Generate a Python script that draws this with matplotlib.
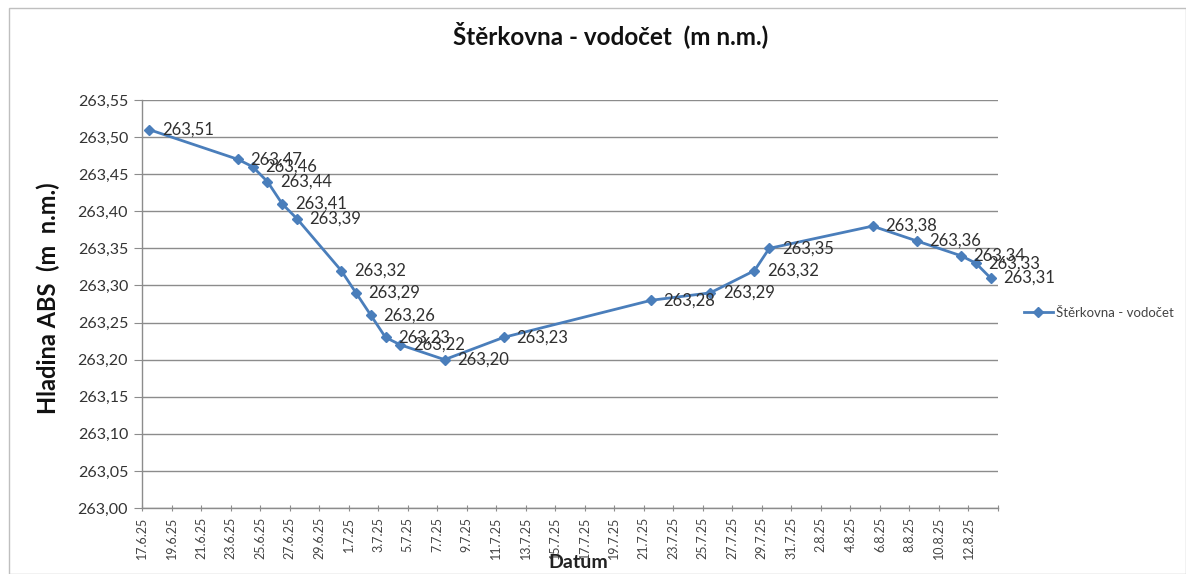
import matplotlib
matplotlib.use("Agg")
import matplotlib.pyplot as plt
import matplotlib.dates as mdates
import pandas as pd

# ---- data ----
dates = ["2025-06-17", "2025-06-23", "2025-06-24", "2025-06-25", "2025-06-26",
         "2025-06-27", "2025-06-30", "2025-07-01", "2025-07-02", "2025-07-03",
         "2025-07-04", "2025-07-07", "2025-07-11", "2025-07-21", "2025-07-25",
         "2025-07-28", "2025-07-29", "2025-08-05", "2025-08-08", "2025-08-11",
         "2025-08-12", "2025-08-13"]
values = [263.51, 263.47, 263.46, 263.44, 263.41,
          263.39, 263.32, 263.29, 263.26, 263.23,
          263.22, 263.20, 263.23, 263.28, 263.29,
          263.32, 263.35, 263.38, 263.36, 263.34,
          263.33, 263.31]
series_name = "Štěrkovna - vodočet"
title = "Štěrkovna - vodočet  (m n.m.)"
y_label = "Hladina ABS  (m  n.m.)"
x_label = "Datum"
y_ticks = [263.00, 263.05, 263.10, 263.15, 263.20, 263.25, 263.30,
           263.35, 263.40, 263.45, 263.50, 263.55]
x_start, x_end = "2025-06-17", "2025-08-14"

plt.rcParams['font.family'] = ['Lato', 'DejaVu Sans']

fig = plt.figure(figsize=(11.86, 5.74), dpi=100)
fig.patch.set_facecolor("white")
ax = fig.add_axes([142/1186, 1-508/574, (998-142)/1186, (508-100)/574])

ts = pd.to_datetime(dates) + pd.Timedelta(hours=12)
xs = mdates.date2num(ts.to_pydatetime())
color = "#4A7EBB"
line, = ax.plot(xs, values, color=color, lw=2.0, marker="D", ms=5.5,
                markerfacecolor=color, markeredgecolor=color, label=series_name,
                zorder=3)

for x, v in zip(xs, values):
    ax.annotate(f"{v:.2f}".replace(".", ","), (x, v), xytext=(9, 0),
                textcoords="offset points", va="center", ha="left",
                fontsize=12, color="#303030", zorder=4)

ax.set_xlim(mdates.date2num(pd.Timestamp(x_start)), mdates.date2num(pd.Timestamp(x_end)))
ax.set_ylim(y_ticks[0], y_ticks[-1])
ax.set_yticks(y_ticks)
ax.set_yticklabels([f"{t:.2f}".replace(".", ",") for t in y_ticks], fontsize=11.5, color="#333333")

tick_dates = pd.date_range(x_start, x_end, freq="2D")
ax.set_xticks(mdates.date2num(tick_dates.to_pydatetime()))
lbls = [f"{d.day}.{d.month}.25" for d in tick_dates]
lbls[-1] = ""
ax.set_xticklabels(lbls, rotation=90, fontsize=9, color="#444444")

ax.grid(axis="y", color="#8C8C8C", lw=1.0)
ax.set_axisbelow(True)
for s in ["top", "right"]:
    ax.spines[s].set_visible(False)
for s in ["left", "bottom"]:
    ax.spines[s].set_color("#8C8C8C")
    ax.spines[s].set_linewidth(1.0)
ax.tick_params(axis="y", length=6, color="#8C8C8C", pad=4)
ax.tick_params(axis="x", length=5, direction="inout", color="#8C8C8C", pad=4)

fig.text(611/1186, 1-35/574, title, ha="center", va="center", fontsize=17.5, fontweight="bold", color="#111111")
fig.text(48/1186, 1-298/574, y_label, ha="center", va="center", rotation=90, fontsize=17, fontweight="bold", color="#111111")
fig.text(578/1186, 1-562/574, x_label, ha="center", va="center", fontsize=14, fontweight="bold", color="#222222")

fig.legend(handles=[line], labels=[series_name], loc="center left",
           bbox_to_anchor=(1012/1186, 1-313/574), frameon=False, fontsize=9.5,
           handlelength=2.2, handletextpad=0.2, labelcolor="#444444")

fig.patches.append(plt.Rectangle((9/1186, 0), 1-9/1186, 1-8/574, transform=fig.transFigure,
                                 fill=False, edgecolor="#BFBFBF", lw=1))

fig.savefig("out.png", dpi=100)
